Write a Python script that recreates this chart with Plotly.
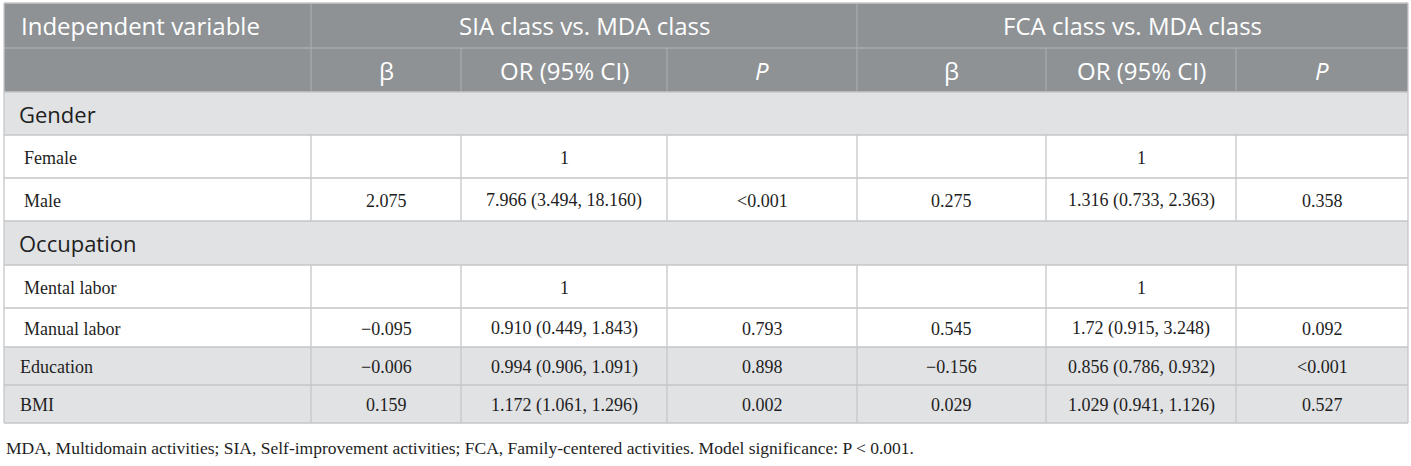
import plotly.graph_objects as go

# ---------------- data ----------------
group_titles = ["SIA class vs. MDA class", "FCA class vs. MDA class"]
sub_headers = ["β", "OR (95% CI)", "<i>P</i>"]
first_header = "Independent variable"

row_labels = ["Gender", "Female", "Male", "Occupation", "Mental labor",
              "Manual labor", "Education", "BMI"]
row_kind = ["group", "level", "level", "group", "level", "level", "shade", "shade"]

sia_beta = ["", "", "2.075", "", "", "−0.095", "−0.006", "0.159"]
sia_or = ["", "1", "7.966 (3.494, 18.160)", "", "1", "0.910 (0.449, 1.843)",
          "0.994 (0.906, 1.091)", "1.172 (1.061, 1.296)"]
sia_p = ["", "", "&lt;0.001", "", "", "0.793", "0.898", "0.002"]
fca_beta = ["", "", "0.275", "", "", "0.545", "−0.156", "0.029"]
fca_or = ["", "1", "1.316 (0.733, 2.363)", "", "1", "1.72 (0.915, 3.248)",
          "0.856 (0.786, 0.932)", "1.029 (0.941, 1.126)"]
fca_p = ["", "", "0.358", "", "", "0.092", "&lt;0.001", "0.527"]

footnote = ("MDA, Multidomain activities; SIA, Self-improvement activities; "
            "FCA, Family-centered activities. Model significance: P &lt; 0.001.")

# ---------------- layout / style ----------------
W, H = 1411, 466
x0, y0 = 4, 3
col_widths = [307, 150, 206, 190, 189, 190, 172]
header_heights = [45, 44]
row_heights = [43, 43, 43, 44, 43, 39, 38, 38]

HEAD_BG = "#8e9295"
HEAD_LINE = "#a7aaad"
SHADE_BG = "#e1e2e4"
BODY_LINE = "#c4c6c8"
TEXT = "#1e1e1e"
SANS = "Open Sans"
SERIF = "Liberation Serif"

col_edges = [x0]
for w in col_widths:
    col_edges.append(col_edges[-1] + w)
row_edges = [y0]
for h in header_heights + row_heights:
    row_edges.append(row_edges[-1] + h)

shapes = []
annotations = []


def rect(xa, xb, ya, yb, fill):
    shapes.append(dict(type="rect", xref="x", yref="y", x0=xa, x1=xb, y0=ya, y1=yb,
                       fillcolor=fill, line=dict(width=0), layer="below"))


def hline(xa, xb, y, color, width=1.3):
    shapes.append(dict(type="line", xref="x", yref="y", x0=xa, x1=xb, y0=y, y1=y,
                       line=dict(color=color, width=width)))


def vline(x, ya, yb, color, width=1.3):
    shapes.append(dict(type="line", xref="x", yref="y", x0=x, x1=x, y0=ya, y1=yb,
                       line=dict(color=color, width=width)))


def text(x, y, s, font, size, color, anchor="center"):
    annotations.append(dict(x=x, y=y, xref="x", yref="y", text=s, showarrow=False,
                            xanchor=anchor, yanchor="middle",
                            font=dict(family=font, size=size, color=color)))


L, R = col_edges[0], col_edges[-1]

# header background
rect(L, R, row_edges[0], row_edges[2], HEAD_BG)
# header lines
hline(col_edges[0], R, row_edges[1], HEAD_LINE)
vline(col_edges[1], row_edges[0], row_edges[2], HEAD_LINE)
vline(col_edges[4], row_edges[0], row_edges[2], HEAD_LINE)
for c in [2, 3, 5, 6]:
    vline(col_edges[c], row_edges[1], row_edges[2], HEAD_LINE)

# header texts
hy1 = (row_edges[0] + row_edges[1]) / 2
hy2 = (row_edges[1] + row_edges[2]) / 2
text(col_edges[0] + 15, hy1, first_header, SANS, 24, "white", "left")
text((col_edges[1] + col_edges[4]) / 2, hy1, group_titles[0], SANS, 24, "white")
text((col_edges[4] + col_edges[7]) / 2, hy1, group_titles[1], SANS, 24, "white")
for g in range(2):
    for k, s in enumerate(sub_headers):
        c = 1 + g * 3 + k
        text((col_edges[c] + col_edges[c + 1]) / 2, hy2, s, SANS, 24, "white")

# body rows
columns = [sia_beta, sia_or, sia_p, fca_beta, fca_or, fca_p]
for i, lab in enumerate(row_labels):
    ya, yb = row_edges[2 + i], row_edges[3 + i]
    yc = (ya + yb) / 2
    kind = row_kind[i]
    if kind in ("group", "shade"):
        rect(L, R, ya, yb, SHADE_BG)
    if kind == "group":
        text(col_edges[0] + 13, yc, lab, SANS, 22, TEXT, "left")
    else:
        for c in range(1, 7):
            vline(col_edges[c], ya, yb, BODY_LINE)
        indent = 18 if kind == "level" else 14
        text(col_edges[0] + indent, yc + 1, lab, SERIF, 18, TEXT, "left")
        for c, col in enumerate(columns, start=1):
            if col[i]:
                text((col_edges[c] + col_edges[c + 1]) / 2, yc + 1, col[i], SERIF, 18, TEXT)

# horizontal body lines
for j in range(2, len(row_edges)):
    hline(L, R, row_edges[j], BODY_LINE)
# outer border
vline(L, row_edges[0], row_edges[-1], BODY_LINE)
vline(R, row_edges[0], row_edges[-1], BODY_LINE)
hline(L, R, row_edges[0], BODY_LINE)

# footnote
text(L, row_edges[-1] + 25, footnote, SERIF, 17.5, TEXT, "left")

fig = go.Figure()
fig.update_layout(
    width=W, height=H, margin=dict(l=0, r=0, t=0, b=0),
    paper_bgcolor="white", plot_bgcolor="white",
    xaxis=dict(range=[0, W], visible=False, fixedrange=True),
    yaxis=dict(range=[H, 0], visible=False, fixedrange=True),
    shapes=shapes, annotations=annotations, showlegend=False,
)
fig.write_html("out.html", config={"displayModeBar": False},
               post_script="document.body.style.margin='0';document.body.style.overflow='hidden';")
